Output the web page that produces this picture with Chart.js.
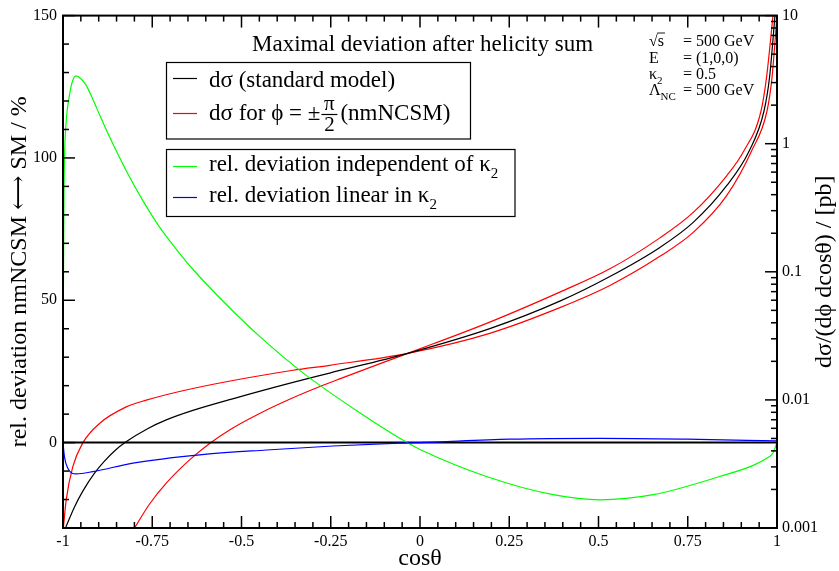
<!DOCTYPE html>
<html>
<head>
<meta charset="utf-8">
<script src="https://cdn.jsdelivr.net/npm/chart.js@4.4.1/dist/chart.umd.min.js"></script>
<style>
html,body{margin:0;padding:0;background:#fff;}
#wrap{width:839px;height:571px;}
</style>
</head>
<body>
<div id="wrap"><canvas id="plot" width="839" height="571"></canvas></div>
<script>
const SERIF = '"Liberation Serif", "Times New Roman", "DejaVu Serif", serif';

// bottom axis: cos(theta)
const xTicks = [-1, -0.75, -0.5, -0.25, 0, 0.25, 0.5, 0.75, 1];
const xTickLabels = ['-1', '-0.75', '-0.5', '-0.25', '0', '0.25', '0.5', '0.75', '1'];
// left axis: relative deviation in %
const devTicks = [0, 50, 100, 150];
// right axis: dsigma / (dphi dcos) in pb
const xsecTicks = [0.001, 0.01, 0.1, 1, 10];
const xsecTickLabels = ['0.001', '0.01', '0.1', '1', '10'];

// [cos theta, pb]
const smPts = [
  [-0.993, 0.00100], [-0.9678, 0.00146], [-0.9445, 0.00194], [-0.9117, 0.00268],
  [-0.8845, 0.00331], [-0.8542, 0.00403], [-0.8234, 0.00471], [-0.7631, 0.00596],
  [-0.7107, 0.00698], [-0.6362, 0.00828], [-0.5249, 0.0102], [-0.3558, 0.0137],
  [-0.2530, 0.0162], [-0.0343, 0.0231], [0.1955, 0.0360], [0.3917, 0.0590],
  [0.5319, 0.0919], [0.6720, 0.155], [0.7654, 0.243], [0.8590, 0.470],
  [0.9224, 0.881], [0.9636, 1.80], [0.979, 3.28], [0.9944, 10.0]
];
const nmPlusPts = [
  [-0.999, 0.00100], [-0.991, 0.00166], [-0.9725, 0.00301], [-0.9445, 0.00462],
  [-0.8977, 0.00655], [-0.8228, 0.00882], [-0.7668, 0.00995], [-0.6362, 0.01227],
  [-0.3558, 0.01703], [-0.2530, 0.01863], [-0.0343, 0.0231], [0.1955, 0.0331],
  [0.3917, 0.0525], [0.5319, 0.0782], [0.6720, 0.132], [0.7654, 0.203],
  [0.8590, 0.393], [0.9291, 0.881], [0.972, 1.80], [0.986, 3.28], [1.0, 10.0]
];
const nmMinusPts = [
  [-0.7996, 0.00100], [-0.7575, 0.00154], [-0.7107, 0.00224], [-0.6454, 0.00340],
  [-0.5893, 0.00457], [-0.5333, 0.00583], [-0.4492, 0.00783], [-0.3558, 0.01038],
  [-0.2718, 0.0130], [-0.2250, 0.0146], [-0.0343, 0.0231], [0.1955, 0.0405],
  [0.3917, 0.0694], [0.5319, 0.1055], [0.6720, 0.184], [0.7654, 0.291],
  [0.8590, 0.562], [0.9075, 0.881], [0.9552, 1.80], [0.9706, 3.28], [0.9888, 10.0]
];

// [cos theta, %]
const devIndepPts = [
  [-1, 0], [-0.999, 50], [-0.997, 90], [-0.9958, 100], [-0.991, 113], [-0.982, 122],
  [-0.9725, 127.3], [-0.963, 128.8], [-0.95, 127.8], [-0.935, 125.5], [-0.9165, 120.6],
  [-0.8935, 114.0], [-0.8697, 107.4], [-0.8228, 95.5], [-0.7763, 85.0], [-0.7295, 75.7],
  [-0.683, 68.0], [-0.6362, 60.9], [-0.5425, 48.5], [-0.4492, 37.3], [-0.3278, 24.5],
  [-0.1689, 10.5], [-0.036, 0], [0, -2.4], [0.1863, -11.9], [0.373, -18.3],
  [0.5039, -20.1], [0.6533, -18.3], [0.8402, -11.9], [0.9335, -8.0], [0.97, -5.6],
  [0.9896, -3.5], [0.9991, -0.2]
];
const devLinearPts = [
  [-1, 0], [-0.996, -4.9], [-0.9865, -9.0], [-0.963, -11.0], [-0.9165, -10.2],
  [-0.804, -7.2], [-0.617, -4.3], [-0.430, -2.6], [-0.2437, -1.2], [-0.057, -0.2],
  [0, 0], [0.252, 1.2], [0.504, 1.5], [0.747, 1.2], [1.0, 0.6]
];
const zeroPts = [[-1, 0], [1, 0]];

function series(pts, color, axis, width){
  return {
    data: pts.map(([x, y]) => ({x, y})),
    borderColor: color, borderWidth: width, yAxisID: axis,
    pointRadius: 0, fill: false, cubicInterpolationMode: 'monotone'
  };
}

function txt(ctx, s, x, y, size, align){
  ctx.font = size + 'px ' + SERIF;
  ctx.textAlign = align || 'left';
  ctx.fillText(s, x, y);
  return ctx.measureText(s).width;
}
function seg(ctx, x1, y1, x2, y2){ ctx.beginPath(); ctx.moveTo(x1, y1); ctx.lineTo(x2, y2); ctx.stroke(); }

// xmgrace-like frame: inward ticks on all sides, legend boxes, labels
const decorations = {
  id: 'decorations',
  afterDraw(chart){
    const {ctx, chartArea: a, scales: {x, y, y2}} = chart;
    ctx.save();
    ctx.strokeStyle = '#000'; ctx.fillStyle = '#000'; ctx.lineWidth = 1.5;
    for(let i = 0; i <= 40; i++){
      const px = x.getPixelForValue(-1 + i * 0.05), len = i % 5 === 0 ? 12 : 6;
      seg(ctx, px, a.bottom, px, a.bottom - len);
      seg(ctx, px, a.top, px, a.top + len);
    }
    for(let v = -30; v <= 150; v += 10){
      const py = y.getPixelForValue(v), len = v % 50 === 0 ? 12 : 6;
      seg(ctx, a.left, py, a.left + len, py);
    }
    xsecTicks.forEach((d, i) => {
      const py = y2.getPixelForValue(d);
      seg(ctx, a.right, py, a.right - 12, py);
      if(i < xsecTicks.length - 1) for(let m = 2; m <= 9; m++){
        const pm = y2.getPixelForValue(d * m);
        seg(ctx, a.right, pm, a.right - 6, pm);
      }
    });
    ctx.lineWidth = 2;
    ctx.strokeRect(a.left, a.top, a.right - a.left, a.bottom - a.top);

    // axis titles
    ctx.textBaseline = 'middle';
    txt(ctx, 'cos\u03b8', (a.left + a.right) / 2, 559, 24, 'center');
    const midY = (a.top + a.bottom) / 2;
    ctx.save(); ctx.translate(20, midY); ctx.rotate(-Math.PI / 2);
    txt(ctx, 'rel. deviation nmNCSM \u27f7 SM / %', 0, 0, 24, 'center');
    ctx.restore();
    ctx.save(); ctx.translate(825, midY); ctx.rotate(-Math.PI / 2);
    txt(ctx, 'd\u03c3/(d\u03d5 dcos\u03b8) / [pb]', 0, 0, 24, 'center');
    ctx.restore();
    ctx.textBaseline = 'alphabetic';

    // heading
    txt(ctx, 'Maximal deviation after helicity sum', 252, 51, 23);

    // legend boxes
    ctx.lineWidth = 1.2;
    ctx.fillStyle = '#fff';
    ctx.fillRect(166.5, 62.5, 304, 76.5); ctx.strokeRect(166.5, 62.5, 304, 76.5);
    ctx.fillRect(166.5, 149.5, 348.5, 67); ctx.strokeRect(166.5, 149.5, 348.5, 67);
    ctx.fillStyle = '#000';
    const sample = (color, yy) => { ctx.strokeStyle = color; ctx.lineWidth = 1.2; seg(ctx, 173, yy, 197, yy); };
    sample('#000000', 78.5);
    txt(ctx, 'd\u03c3 (standard model)', 209, 86.5, 23);
    sample('#ff0000', 113.5);
    let w = txt(ctx, 'd\u03c3 for \u03d5 = \u00b1', 209, 120, 23);
    const fx = 209 + w + 1;
    txt(ctx, '\u03c0', fx + 8, 110, 21, 'center');
    txt(ctx, '2', fx + 8, 131, 21, 'center');
    ctx.strokeStyle = '#000'; ctx.lineWidth = 1.2; seg(ctx, fx, 114.5, fx + 16, 114.5);
    txt(ctx, '(nmNCSM)', fx + 19, 120, 23);
    sample('#00ff00', 166.5);
    w = txt(ctx, 'rel. deviation independent of \u03ba', 209, 171, 23);
    txt(ctx, '2', 209 + w, 178, 15);
    sample('#0000ff', 197.5);
    w = txt(ctx, 'rel. deviation linear in \u03ba', 209, 202, 23);
    txt(ctx, '2', 209 + w, 209, 15);

    // run parameters
    ctx.fillStyle = '#000'; ctx.strokeStyle = '#000'; ctx.lineWidth = 0.9;
    const w1 = txt(ctx, '\u221a', 649, 45.5, 16);
    const ws = txt(ctx, 's', 649 + w1, 45.5, 16);
    seg(ctx, 649 + w1 - 0.5, 33, 649 + w1 + ws + 1, 33);
    txt(ctx, 'E', 649, 62.5, 16);
    w = txt(ctx, '\u03ba', 649, 78.5, 16);
    txt(ctx, '2', 649 + w, 84, 11);
    w = txt(ctx, '\u039b', 649, 95, 16);
    txt(ctx, 'NC', 649 + w, 100, 11);
    txt(ctx, '= 500 GeV', 683, 45.5, 16);
    txt(ctx, '= (1,0,0)', 683, 62.5, 16);
    txt(ctx, '= 0.5', 683, 78.5, 16);
    txt(ctx, '= 500 GeV', 683, 95, 16);
    ctx.restore();
  }
};

const tickFont = {family: SERIF, size: 16};

new Chart(document.getElementById('plot'), {
  type: 'line',
  data: {
    datasets: [
      series(devLinearPts, '#0000ff', 'y', 1.2),
      series(devIndepPts, '#00ff00', 'y', 1.2),
      series(zeroPts, '#000000', 'y', 2),
      series(smPts, '#000000', 'y2', 1.2),
      series(nmPlusPts, '#ff0000', 'y2', 1.2),
      series(nmMinusPts, '#ff0000', 'y2', 1.2)
    ]
  },
  options: {
    responsive: false,
    animation: false,
    layout: {padding: {top: 14, left: 0, right: 0, bottom: 0}},
    plugins: {legend: {display: false}, tooltip: {enabled: false}},
    scales: {
      x: {
        type: 'linear', min: -1, max: 1,
        grid: {display: false, drawTicks: false}, border: {display: false},
        afterBuildTicks: s => { s.ticks = xTicks.map(v => ({value: v})); },
        afterFit: s => { s.height = 43; },
        ticks: {autoSkip: false, maxRotation: 0, padding: 4, color: '#000', font: tickFont,
          callback: v => xTickLabels[xTicks.indexOf(v)]}
      },
      y: {
        type: 'linear', position: 'left', min: -30, max: 150,
        grid: {display: false, drawTicks: false}, border: {display: false},
        afterBuildTicks: s => { s.ticks = devTicks.map(v => ({value: v})); },
        afterFit: s => { s.width = 63; },
        ticks: {autoSkip: false, padding: 6, color: '#000', font: tickFont, callback: v => String(v)}
      },
      y2: {
        type: 'logarithmic', position: 'right', min: 0.001, max: 10,
        grid: {display: false, drawTicks: false}, border: {display: false},
        afterBuildTicks: s => { s.ticks = xsecTicks.map(v => ({value: v})); },
        afterFit: s => { s.width = 62; },
        ticks: {autoSkip: false, padding: 5, color: '#000', font: tickFont,
          callback: v => xsecTickLabels[xsecTicks.indexOf(v)]}
      }
    }
  },
  plugins: [decorations]
});
</script>
</body>
</html>
